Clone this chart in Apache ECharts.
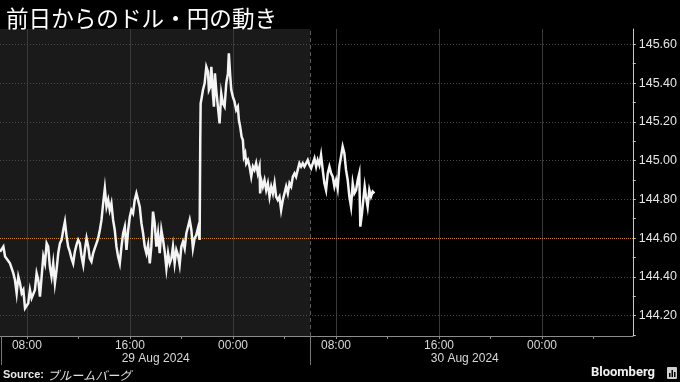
<!DOCTYPE html>
<html>
<head>
<meta charset="utf-8">
<script src="https://cdn.jsdelivr.net/npm/echarts@6/dist/echarts.min.js"></script>
<style>html,body{margin:0;padding:0;background:#000}#c{width:680px;height:382px}</style>
</head>
<body>
<div id="c"></div>
<script>
// hours since 00:00 29 Aug 2024 (Tokyo)
const timeHours = [
5.91,6.17,6.30,6.42,6.68,6.94,7.07,7.20,7.33,7.46,7.59,7.72,7.85,7.97,8.10,8.23,8.36,8.49,8.62,8.75,
8.88,9.01,9.14,9.27,9.40,9.53,9.65,9.78,9.91,10.04,10.17,10.30,10.43,10.56,10.69,10.82,10.95,11.08,11.20,11.33,
11.46,11.59,11.72,11.85,11.98,12.11,12.24,12.37,12.50,12.63,12.76,12.88,13.01,13.14,13.27,13.40,13.53,13.66,13.79,13.92,
14.05,14.18,14.31,14.43,14.56,14.69,14.82,14.95,15.08,15.21,15.34,15.47,15.60,15.73,15.86,15.99,16.11,16.24,16.37,16.50,
16.63,16.76,16.89,17.02,17.15,17.28,17.41,17.54,17.66,17.79,17.92,18.05,18.18,18.31,18.44,18.57,18.70,18.83,18.96,19.09,
19.22,19.34,19.47,19.60,19.73,19.86,19.99,20.12,20.25,20.38,20.51,20.64,20.77,20.89,21.02,21.15,21.28,21.41,21.46,21.49,
21.54,21.67,21.80,21.93,22.06,22.13,22.24,22.32,22.44,22.52,22.60,22.70,22.83,22.96,23.09,23.22,23.35,23.48,23.61,23.68,
23.79,23.87,23.99,24.12,24.25,24.38,24.46,24.56,24.67,24.77,24.85,24.95,25.03,25.16,25.29,25.42,25.55,25.67,25.80,25.93,
26.06,26.11,26.19,26.32,26.45,26.58,26.71,26.84,26.97,27.10,27.23,27.35,27.48,27.61,27.74,27.87,28.00,28.13,28.26,28.39,
28.52,28.65,28.78,28.90,29.03,29.16,29.29,29.42,29.55,29.68,29.81,29.94,30.07,30.20,30.33,30.46,30.58,30.71,30.84,30.97,
31.10,31.23,31.36,31.49,31.62,31.75,31.88,32.01,32.13,32.26,32.39,32.52,32.65,32.78,32.91,33.04,33.17,33.30,33.43,33.56,
33.69,33.81,33.89,34.02,34.12,34.23,34.33,34.46,34.59,34.72,34.85,34.98
];
const prices = [
144.530,144.556,144.505,144.513,144.470,144.419,144.384,144.316,144.401,144.367,144.316,144.333,144.238,144.247,144.264,144.333,144.290,144.281,144.333,144.419,
144.384,144.298,144.401,144.505,144.470,144.573,144.556,144.453,144.401,144.470,144.367,144.436,144.522,144.573,144.591,144.642,144.685,144.608,144.556,144.530,
144.496,144.470,144.530,144.565,144.591,144.573,144.505,144.462,144.539,144.599,144.556,144.496,144.479,144.522,144.548,144.573,144.599,144.642,144.694,144.780,
144.857,144.762,144.797,144.745,144.780,144.694,144.642,144.556,144.505,144.470,144.556,144.625,144.659,144.539,144.642,144.711,144.745,144.728,144.797,144.831,
144.840,144.762,144.677,144.625,144.556,144.522,144.565,144.470,144.556,144.737,144.677,144.556,144.625,144.522,144.642,144.591,144.530,144.444,144.522,144.470,
144.496,144.556,144.470,144.539,144.513,144.462,144.556,144.582,144.548,144.625,144.659,144.694,144.642,144.548,144.599,144.616,144.651,144.591,145.106,145.295,
145.313,145.364,145.399,145.484,145.459,145.364,145.381,145.484,145.347,145.278,145.450,145.364,145.278,145.192,145.347,145.295,145.278,145.399,145.450,145.553,
145.433,145.364,145.330,145.304,145.261,145.278,145.209,145.175,145.123,145.106,145.020,145.038,144.986,145.003,144.969,144.917,144.969,144.952,144.986,144.934,
144.969,144.831,144.900,144.866,144.900,144.848,144.883,144.814,144.866,144.831,144.883,144.814,144.797,144.814,144.745,144.797,144.831,144.866,144.831,144.883,
144.866,144.917,144.934,144.917,144.952,144.986,144.969,144.986,144.969,144.986,145.003,144.977,144.960,144.986,145.012,144.969,145.003,144.977,145.029,144.952,
144.883,144.848,144.934,144.969,144.934,144.917,144.866,144.900,144.857,144.969,145.020,145.072,145.038,144.952,144.900,144.814,144.762,144.883,144.831,144.848,
144.900,144.934,144.659,144.728,144.797,144.866,144.814,144.762,144.848,144.814,144.840,144.831
];
const xLabelHours = [8,16,24,32,40,48];
const xMinorTickHours = [8,12,16,20,24,28,32,36,40,44,48,52];
const dateLabelHours = [18,42];
const dateLabels = ['29 Aug 2024','30 Aug 2024'];
const daySeparatorHours = [6,30];
const yTickValues = [144.2,144.4,144.6,144.8,145.0,145.2,145.4,145.6];
const yMinorTicks = [144.1,144.2,144.3,144.4,144.5,144.6,144.7,144.8,144.9,145.0,145.1,145.2,145.3,145.4,145.5,145.6];
const prevClose = 144.6;
const xMin = 5.907, xMax = 55.05;
const yMin = 144.095, yMax = 145.679;

const chart = echarts.init(document.getElementById('c'));
const font = 'Liberation Sans, Arial, sans-serif';
const gridMarks = [];
xLabelHours.forEach(h => gridMarks.push({xAxis: h, lineStyle: {color: '#3a3a3a', width: 1, type: 'solid'}}));
yTickValues.forEach(v => { if (v !== prevClose) gridMarks.push({yAxis: v, lineStyle: {color: '#4a4a4a', width: 1, type: [1, 2]}}); });
gridMarks.push({xAxis: daySeparatorHours[1], lineStyle: {color: '#5a5a5a', width: 1, type: [4, 3]}});

chart.setOption({
  backgroundColor: '#000',
  animation: false,
  title: {
    text: '前日からのドル・円の動き', left: 1, top: 2,
    textStyle: {color: '#ffffff', fontSize: 22.6, fontWeight: 'normal', fontFamily: 'Noto Sans CJK JP'}
  },
  grid: {left: 0, right: 46, top: 29, bottom: 46},
  xAxis: [
    {
      type: 'value', min: xMin, max: xMax, position: 'bottom',
      axisLine: {show: true, lineStyle: {color: '#8c8c8c', width: 1}},
      axisTick: {show: true, customValues: xMinorTickHours, length: 3, lineStyle: {color: '#8c8c8c'}},
      axisLabel: {customValues: xLabelHours, margin: 4, color: '#d8d8d8', fontSize: 12, fontFamily: font,
        formatter: v => String(Math.round(v) % 24).padStart(2, '0') + ':00'},
      splitLine: {show: false}
    },
    {
      type: 'value', min: xMin, max: xMax, position: 'bottom',
      axisLine: {show: false},
      axisTick: {show: true, customValues: daySeparatorHours, length: 29, lineStyle: {color: '#777'}},
      axisLabel: {customValues: dateLabelHours, margin: 17, color: '#d8d8d8', fontSize: 12, fontFamily: font,
        formatter: v => dateLabels[dateLabelHours.indexOf(Math.round(v))]},
      splitLine: {show: false}
    }
  ],
  yAxis: {
    type: 'value', position: 'right', min: yMin, max: yMax,
    axisLine: {show: true, lineStyle: {color: '#c8c8c8', width: 1}},
    axisTick: {show: true, customValues: yMinorTicks, length: 3, lineStyle: {color: '#c8c8c8'}},
    axisLabel: {customValues: yTickValues, margin: 6, color: '#e6e6e6', fontSize: 12.5, fontFamily: font,
      formatter: v => v.toFixed(2)},
    splitLine: {show: false}
  },
  series: [
    {
      type: 'line', data: [], z: 1, silent: true,
      markArea: {silent: true, itemStyle: {color: '#1a1a1a'},
        data: [[{xAxis: xMin}, {xAxis: daySeparatorHours[1]}]]},
      markLine: {silent: true, symbol: 'none', label: {show: false}, data: gridMarks}
    },
    {
      type: 'line', data: [], z: 2, silent: true,
      markLine: {silent: true, symbol: 'none', label: {show: false},
        data: [{yAxis: prevClose, lineStyle: {color: '#c98520', width: 1, type: [1, 1]}}]}
    },
    {
      type: 'line', z: 5, showSymbol: false, symbol: 'none',
      data: timeHours.map((t, i) => [t, prices[i]]),
      lineStyle: {color: '#f4f4f4', width: 2.5, join: 'miter'},
      xAxisIndex: 0
    }
  ],
  graphic: [
    {type: 'text', left: 3, top: 369, style: {
      text: '{b|Source:} {n|ブルームバーグ}',
      rich: {
        b: {fontWeight: 'bold', fontSize: 11, fill: '#e8e8e8', fontFamily: font},
        n: {fontSize: 12, fill: '#e0e0e0', fontFamily: 'Noto Sans CJK JP', fontStyle: 'italic'}
      }}},
    {type: 'text', right: 25, top: 366, style: {text: 'Bloomberg', fontWeight: 'bold', fontSize: 13,
      fill: '#f0f0f0', fontFamily: 'Liberation Sans Narrow, Roboto, sans-serif'}},
    {type: 'group', left: 667, top: 367, children: [
      {type: 'rect', shape: {x: 0, y: 0, width: 10, height: 12, r: 1}, style: {fill: '#d0d0d0'}},
      {type: 'rect', shape: {x: 2, y: 6, width: 1.5, height: 4}, style: {fill: '#000'}},
      {type: 'rect', shape: {x: 4.5, y: 3, width: 1.5, height: 7}, style: {fill: '#000'}},
      {type: 'rect', shape: {x: 7, y: 5, width: 1.5, height: 5}, style: {fill: '#000'}}
    ]}
  ]
});
</script>
</body>
</html>
